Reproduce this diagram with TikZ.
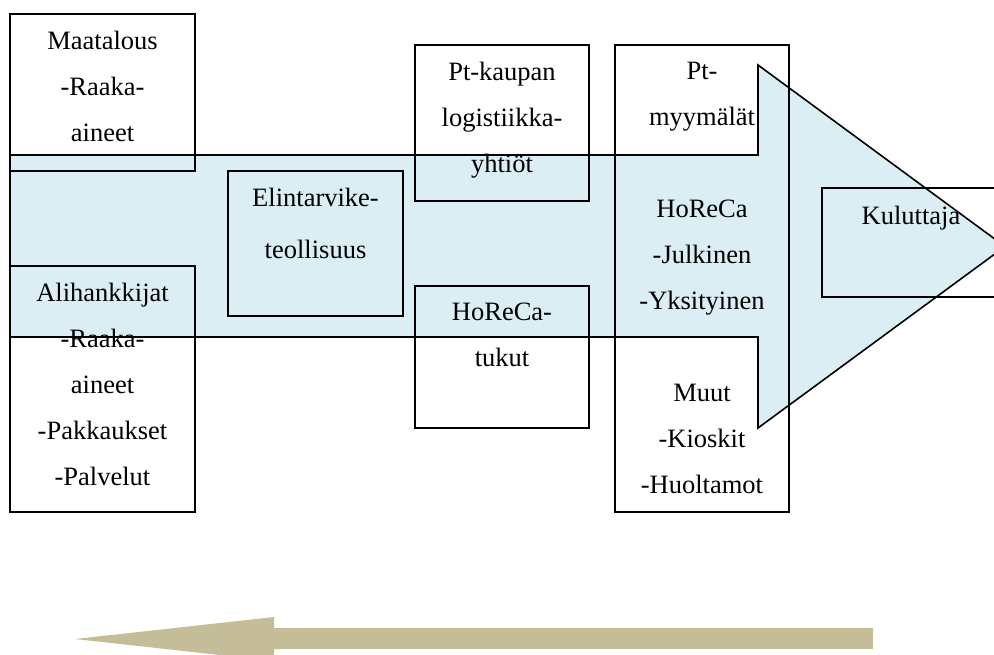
\documentclass[tikz,border=0pt]{standalone}
\usepackage{fontspec}
\setmainfont{Liberation Serif}
\definecolor{flowblue}{RGB}{218, 238, 243}
\definecolor{returntan}{RGB}{196, 189, 151}

\begin{document}
\begin{tikzpicture}[x=1pt, y=-1pt, line width=1.6pt,
  box/.style={draw, rectangle, inner sep=0pt},
  txt/.style={anchor=north, yshift=-17pt, inner sep=0pt, align=center, font=\fontsize{26.5}{46}\selectfont}]
  \useasboundingbox (0,0) rectangle (994,654);

  % Main flow arrow
  \draw[fill=flowblue] (10,155) -- (758,155) -- (758,65) -- (1005,246.5) -- (758,428) -- (758,337) -- (10,337) -- cycle;

  % Return flow arrow
  \fill[returntan] (873,628) -- (274,628) -- (274,617) -- (75,639) -- (274,661) -- (274,649) -- (873,649) -- cycle;

  % Suppliers
  \node[box, minimum width=185pt, minimum height=157pt] (maa) at (102.5,92.5) {};
  \node[txt] (maa-t) at (maa.north) {Maatalous\\-Raaka-\\aineet};
  \node[box, minimum width=185pt, minimum height=246pt] (ali) at (102.5,389) {};
  \node[txt] (ali-t) at (ali.north) {Alihankkijat\\-Raaka-\\aineet\\-Pakkaukset\\-Palvelut};

  % Industry
  \node[box, minimum width=175pt, minimum height=145pt] (teol) at (315.5,243.5) {};
  \node[txt] (teol-t) at (teol.north) {Elintarvike-\\[6pt]teollisuus};

  % Wholesale
  \node[box, minimum width=174pt, minimum height=156pt] (logi) at (502,123) {};
  \node[txt] (logi-t) at (logi.north) {Pt-kaupan\\logistiikka-\\yhtiöt};
  \node[box, minimum width=174pt, minimum height=142pt] (tukut) at (502,357) {};
  \node[txt] (tukut-t) at (tukut.north) {HoReCa-\\tukut};

  % Retail
  \node[box, minimum width=174pt, minimum height=467pt] (myym) at (702,278.5) {};
  \node[txt] (myym-t) at (myym.north) {Pt-\\myymälät\\[46pt]HoReCa\\-Julkinen\\-Yksityinen\\[46pt]Muut\\-Kioskit\\-Huoltamot};

  % Consumer
  \node[box, minimum width=178pt, minimum height=109pt] (kulu) at (911,242.5) {};
  \node[txt, yshift=-1pt] (kulu-t) at (kulu.north) {Kuluttaja};
\end{tikzpicture}
\end{document}
